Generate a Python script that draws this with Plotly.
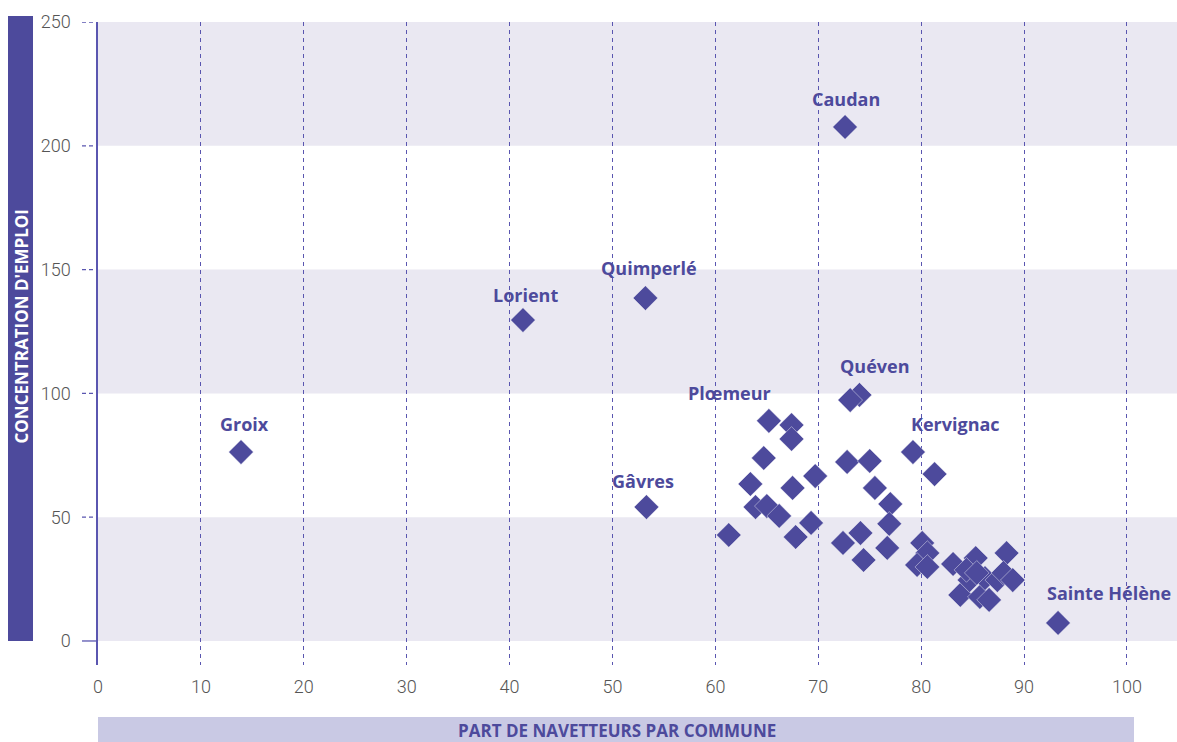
import plotly.graph_objects as go

# ---- data ----
share = [13.9, 41.3, 53.2, 72.6, 53.3, 93.3, 74.0, 73.1, 65.2, 79.2,
         67.4, 67.4, 64.7, 63.4, 69.7, 67.5, 63.9, 65.0, 66.2, 69.3,
         61.3, 67.8, 72.4, 72.8, 75.0, 75.5, 77.0, 76.9, 74.1, 74.4,
         76.7, 81.3, 80.1, 80.6, 79.6, 80.6, 83.1, 85.3, 88.3, 83.8,
         84.7, 85.7, 86.6, 86.2, 87.4, 88.0, 88.9, 84.4, 85.4]
conc = [76.3, 129.6, 138.5, 207.6, 54.1, 7.3, 99.4, 97.3, 88.9, 76.3,
        87.2, 81.6, 73.9, 63.4, 66.6, 61.8, 54.1, 54.5, 50.5, 47.7,
        42.8, 42.0, 39.6, 72.3, 72.7, 61.8, 55.3, 47.3, 43.6, 32.7,
        37.6, 67.4, 39.6, 35.5, 30.7, 29.9, 31.1, 33.5, 35.5, 18.6,
        24.6, 17.8, 16.6, 25.4, 24.6, 27.5, 24.6, 28.7, 27.5]
names = ["Groix", "Lorient", "Quimperlé", "Caudan", "Gâvres", "Sainte Hélène",
         "Quéven", "", "Plœmeur", "Kervignac"] + [""] * 39

x_ticks = [0, 10, 20, 30, 40, 50, 60, 70, 80, 90, 100]
y_ticks = [0, 50, 100, 150, 200, 250]
y_title = "CONCENTRATION D'EMPLOI"
x_title = "PART DE NAVETTEURS PAR COMMUNE"

# ---- style ----
PURPLE = "#4D4A9C"
LINE = "#5A56B0"
BAND = "#EAE8F2"
BOLD_FONT = "Open Sans"
label_shift = {"Groix": (3, 28), "Lorient": (3, 25), "Quimperlé": (4, 30),
               "Caudan": (1, 28), "Gâvres": (-3, 26), "Sainte Hélène": (51, 30),
               "Quéven": (16, 29), "Plœmeur": (-39, 28), "Kervignac": (43, 28)}

fig = go.Figure()
fig.add_trace(go.Scatter(
    x=share, y=conc, mode="markers",
    marker=dict(symbol="diamond", size=19, color=PURPLE,
                line=dict(width=0.6, color="rgba(255,255,255,0.7)")),
    hoverinfo="skip", showlegend=False))

shapes = []
for lo in y_ticks[:-1:2]:
    shapes.append(dict(type="rect", xref="paper", yref="y", x0=0, x1=1,
                       y0=lo, y1=lo + 50, fillcolor=BAND, line_width=0, layer="below"))
tick_w = 16 / 1079
for v in y_ticks:
    shapes.append(dict(type="line", xref="paper", yref="y", x0=-tick_w, x1=0,
                       y0=v, y1=v, layer="below",
                       line=dict(color=LINE, width=1.3,
                                 dash="solid" if v == 0 else "4px,3px")))
shapes.append(dict(type="rect", xref="paper", yref="paper", layer="below",
                   x0=(8 - 98) / 1079, x1=(33 - 98) / 1079,
                   y0=(665 - 641) / 643, y1=(665 - 16) / 643,
                   fillcolor=PURPLE, line_width=0))
shapes.append(dict(type="rect", xref="paper", yref="paper", layer="below",
                   x0=0, x1=(1134 - 98) / 1079,
                   y0=(665 - 742) / 643, y1=(665 - 717) / 643,
                   fillcolor="#C9C9E4", line_width=0))

annotations = []
for xv, yv, n in zip(share, conc, names):
    if n:
        dx, dy = label_shift[n]
        annotations.append(dict(x=xv, y=yv, text="<b>" + n + "</b>", showarrow=False,
                                xshift=dx, yshift=dy, xanchor="center", yanchor="middle",
                                font=dict(family=BOLD_FONT, size=18, color=PURPLE)))
annotations.append(dict(xref="paper", yref="paper", x=(20.5 - 98) / 1079,
                        y=(665 - 326) / 643, text="<b>" + y_title + "</b>",
                        xanchor="center", yanchor="middle",
                        textangle=-90, showarrow=False,
                        font=dict(family=BOLD_FONT, size=17, color="white")))
annotations.append(dict(xref="paper", yref="paper", x=(617 - 98) / 1079,
                        y=(665 - 730) / 643, text="<b>" + x_title + "</b>",
                        xanchor="center", yanchor="middle",
                        showarrow=False,
                        font=dict(family=BOLD_FONT, size=17, color=PURPLE)))

fig.update_layout(
    width=1177, height=742,
    margin=dict(l=98, r=0, t=22, b=77),
    plot_bgcolor="white", paper_bgcolor="white",
    shapes=shapes, annotations=annotations,
    xaxis=dict(range=[0, 104.86], tickvals=x_ticks, ticktext=[str(v) for v in x_ticks],
               showgrid=True, gridcolor=LINE, gridwidth=1, griddash="4px,4px",
               zeroline=False, showline=False, ticks="",
               tickfont=dict(family="Roboto", size=18, color="#555555", weight=300),
               ticklabelstandoff=9),
    yaxis=dict(range=[-9.7, 250], tickvals=y_ticks, showgrid=False, zeroline=False,
               showline=True, linecolor=LINE, linewidth=1.5, ticks="",
               tickfont=dict(family="Roboto", size=18, color="#555555", weight=300),
               ticklabelstandoff=22),
)
fig.write_html("out.html", config={"displayModeBar": False},
               post_script="document.body.style.margin='0';document.body.style.overflow='hidden';")
